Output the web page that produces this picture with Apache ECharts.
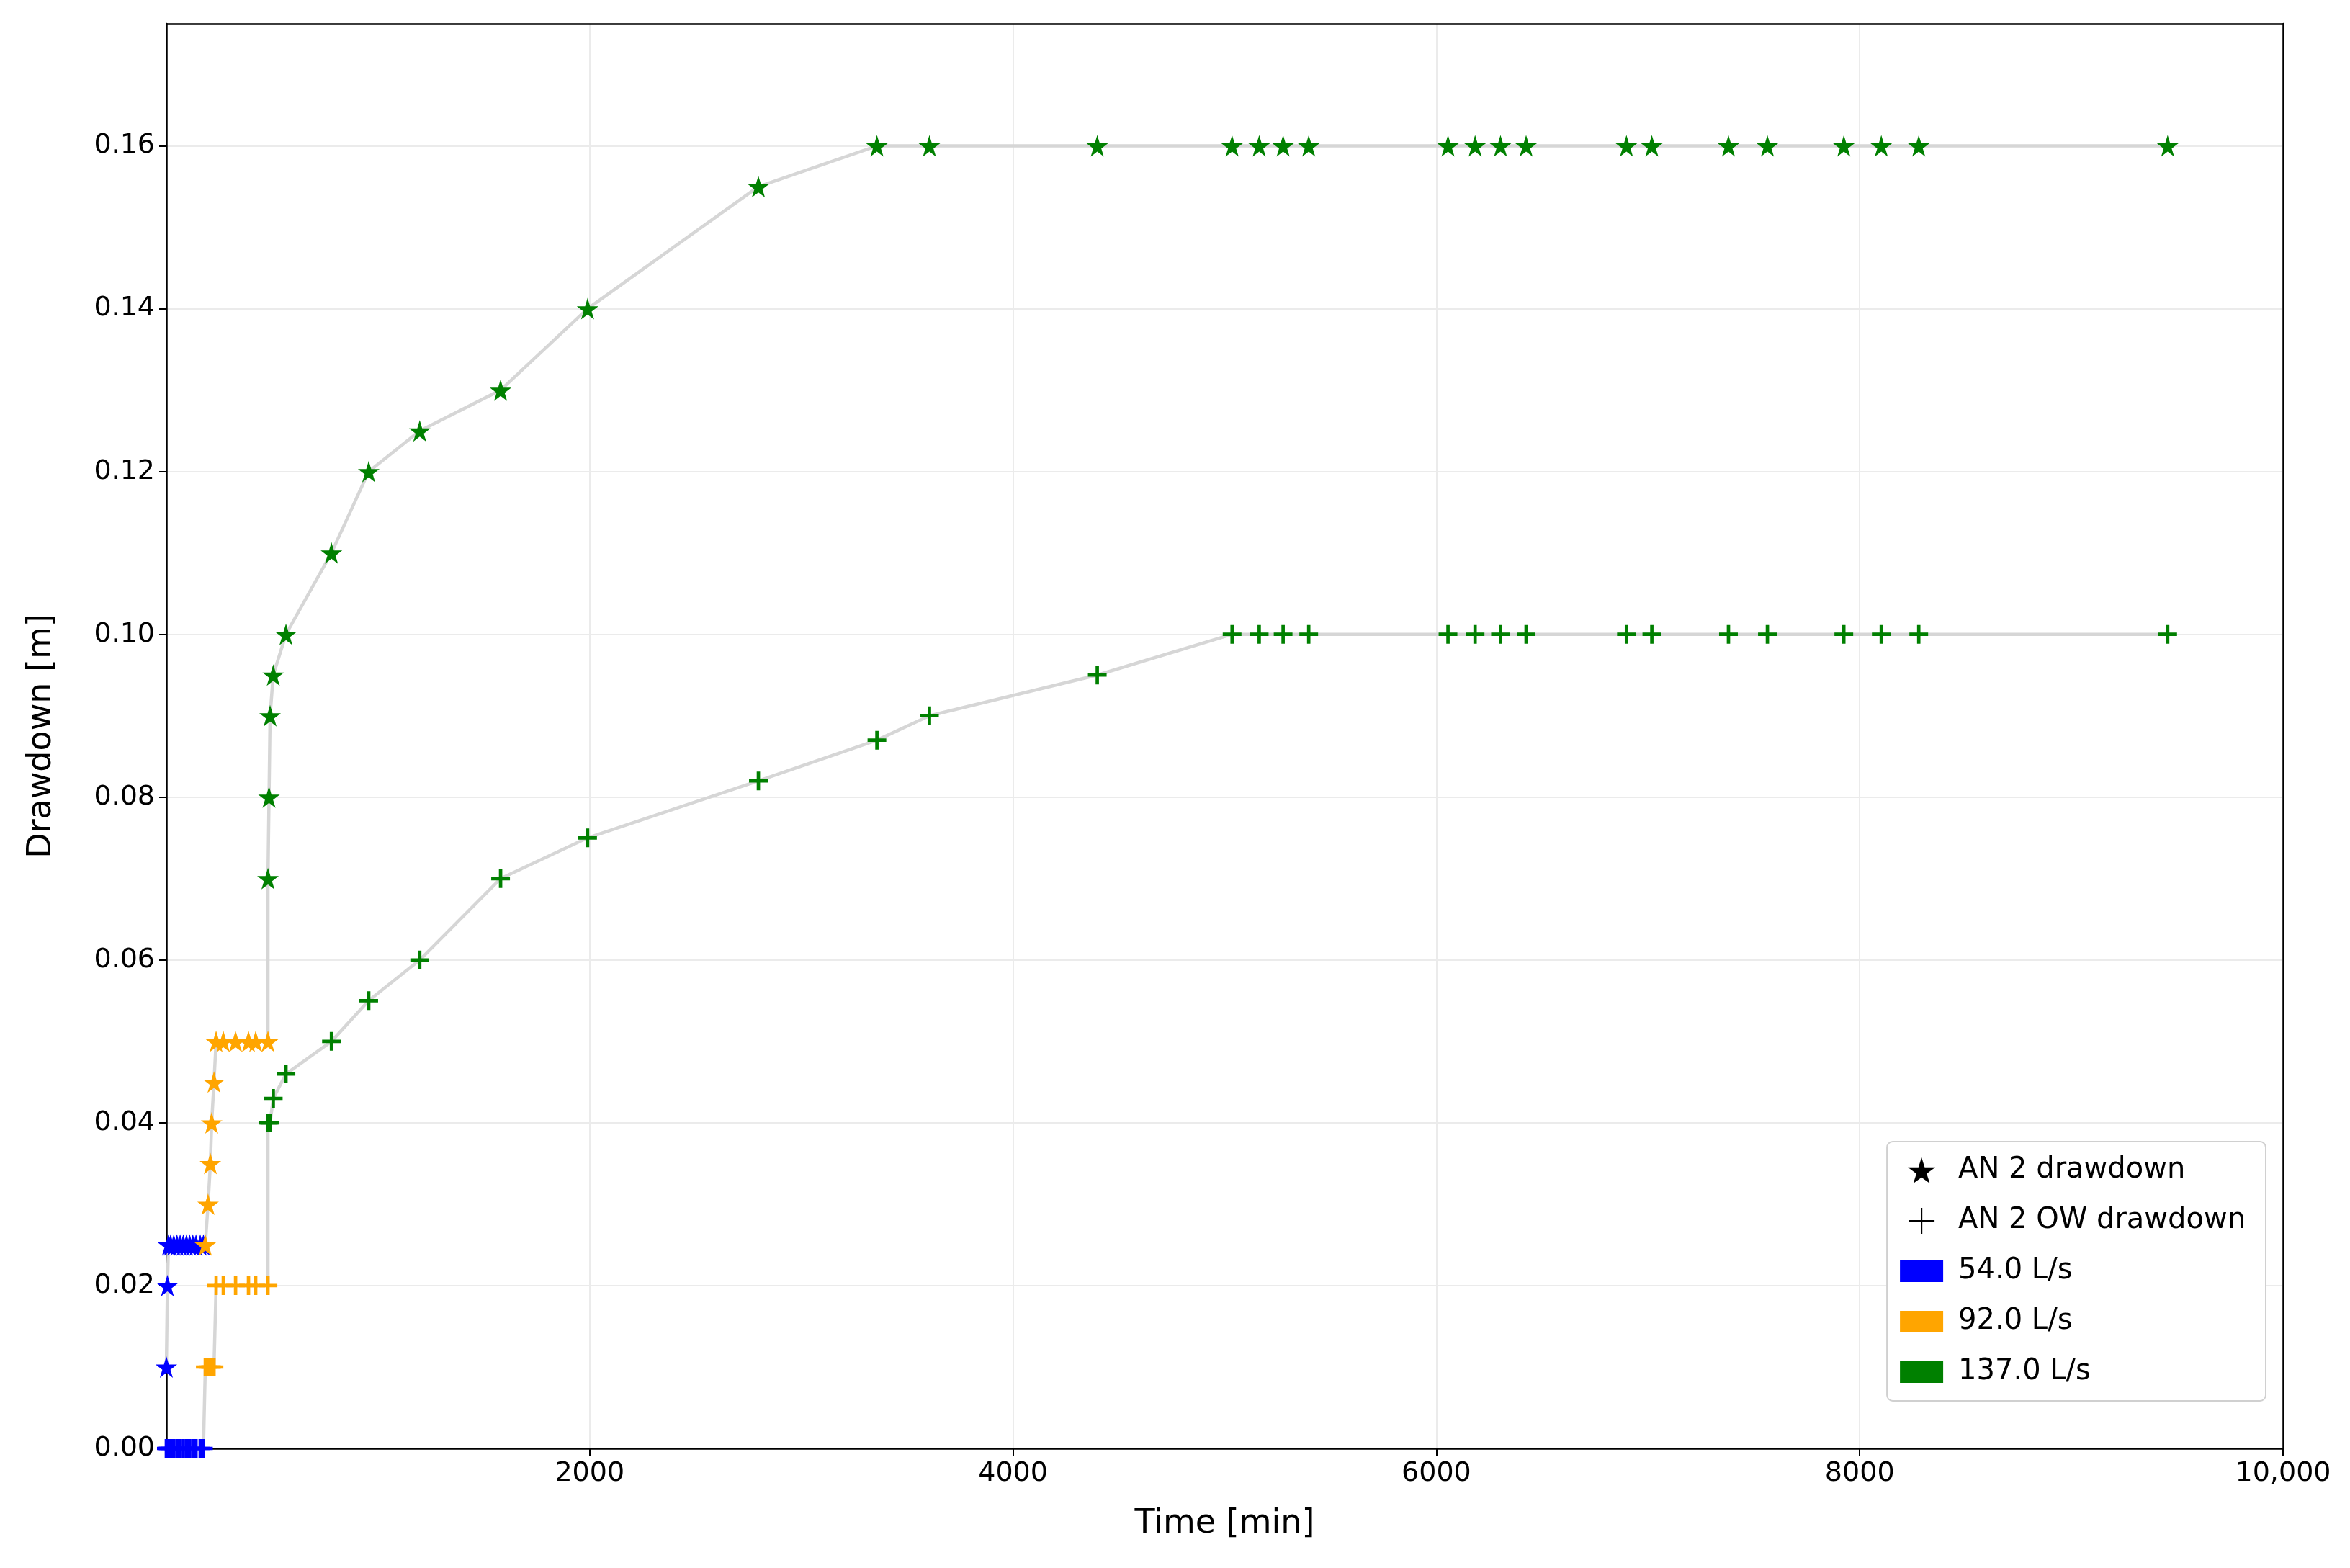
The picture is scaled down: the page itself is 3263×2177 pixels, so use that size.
<!DOCTYPE html>
<html><head><meta charset="utf-8">
<script src="https://cdn.jsdelivr.net/npm/echarts@6/dist/echarts.min.js"></script>
<style>html,body{margin:0;background:#fff}#c{width:3263px;height:2177px}</style>
</head><body><div id="c"></div>
<script>
// time [min] and drawdown [m], per pumping rate
var blueTime = [0, 5, 10, 20, 35, 50, 65, 80, 95, 110, 125, 140, 160, 175];
var blueStar = [0.01, 0.02, 0.025, 0.025, 0.025, 0.025, 0.025, 0.025, 0.025, 0.025, 0.025, 0.025, 0.025, 0.025];
var bluePlus = [0, 0, 0, 0, 0, 0, 0, 0, 0, 0, 0, 0, 0, 0];
var orangeTime = [184, 197, 208, 214, 225, 235, 269, 327, 388, 422, 480];
var orangeStar = [0.025, 0.03, 0.035, 0.04, 0.045, 0.05, 0.05, 0.05, 0.05, 0.05, 0.05];
var orangePlus = [0.01, 0.01, 0.01, 0.01, 0.01, 0.02, 0.02, 0.02, 0.02, 0.02, 0.02];
var greenTime = [480, 485, 490, 505, 565, 780, 956, 1197, 1579, 1990, 2797, 3357, 3605, 4398,
  5035, 5163, 5276, 5397, 6055, 6183, 6303, 6424, 6898, 7018, 7380, 7564, 7925, 8102, 8279, 9455];
var greenStar = [0.07, 0.08, 0.09, 0.095, 0.1, 0.11, 0.12, 0.125, 0.13, 0.14, 0.155, 0.16, 0.16, 0.16,
  0.16, 0.16, 0.16, 0.16, 0.16, 0.16, 0.16, 0.16, 0.16, 0.16, 0.16, 0.16, 0.16, 0.16, 0.16, 0.16];
var greenPlus = [0.04, 0.04, 0.04, 0.043, 0.046, 0.05, 0.055, 0.06, 0.07, 0.075, 0.082, 0.087, 0.09, 0.095,
  0.1, 0.1, 0.1, 0.1, 0.1, 0.1, 0.1, 0.1, 0.1, 0.1, 0.1, 0.1, 0.1, 0.1, 0.1, 0.1];
var groups = [
  {name: '54.0 L/s', color: '#0000ff', t: blueTime, s: blueStar, p: bluePlus},
  {name: '92.0 L/s', color: '#ffa500', t: orangeTime, s: orangeStar, p: orangePlus},
  {name: '137.0 L/s', color: '#008000', t: greenTime, s: greenStar, p: greenPlus}
];

var STAR = 'path://M50,0 L61,35 L98,35 L68,57 L79,91 L50,70 L21,91 L32,57 L2,35 L39,35 Z';
var PLUS = 'path://M41,0 H59 V41 H100 V59 H59 V100 H41 V59 H0 V41 H41 Z';
var RECT = 'path://M0,0 H100 V50 H0 Z';

function zip(t, v) { return t.map(function (x, i) { return [x, v[i]]; }); }

var series = [];
var allStar = [], allPlus = [];
groups.forEach(function (g) {
  allStar = allStar.concat(zip(g.t, g.s));
  allPlus = allPlus.concat(zip(g.t, g.p));
});
[allStar, allPlus].forEach(function (d) {
  series.push({type: 'line', data: d, showSymbol: false, silent: true,
    lineStyle: {color: '#d6d6d6', width: 4.5}, z: 1});
});
groups.forEach(function (g) {
  series.push({type: 'scatter', data: zip(g.t, g.s), symbol: STAR, symbolSize: 30,
    itemStyle: {color: g.color, opacity: 1}, z: 3});
  series.push({type: 'scatter', data: zip(g.t, g.p), symbol: PLUS, symbolSize: 26,
    itemStyle: {color: g.color, opacity: 1}, z: 3});
});
// legend-only entries
series.push({type: 'scatter', name: 'AN 2 drawdown', data: [], symbol: STAR, itemStyle: {color: '#000', opacity: 1}});
series.push({type: 'scatter', name: 'AN 2 OW drawdown', data: [], symbol: 'path://M47,0 H53 V47 H100 V53 H53 V100 H47 V53 H0 V47 H47 Z', itemStyle: {color: '#000', opacity: 1}});
groups.forEach(function (g) {
  series.push({type: 'scatter', name: g.name, data: [], symbol: RECT, itemStyle: {color: g.color, opacity: 1}});
});

var tick = {show: true, length: 10, lineStyle: {color: '#000', width: 2}};
var frame = {show: true, onZero: false, lineStyle: {color: '#000', width: 2.5}};
var chart = echarts.init(document.getElementById('c'));
chart.setOption({
  animation: false,
  textStyle: {fontFamily: 'DejaVu Sans'},
  grid: {left: 231, right: 93, top: 33, bottom: 166},
  xAxis: [{type: 'value', min: 0, max: 10000, interval: 2000,
    name: 'Time [min]', nameLocation: 'middle', nameGap: 82,
    nameTextStyle: {fontSize: 46, color: '#000'},
    axisLine: frame, axisTick: tick,
    axisLabel: {fontSize: 38, color: '#000', margin: 16,
      formatter: function (v) { return v === 0 ? '' : (v === 10000 ? '10,000' : String(v)); }},
    splitLine: {lineStyle: {color: '#ebebeb', width: 2}}},
    {type: 'value', position: 'top', min: 0, max: 10000, axisLine: frame,
     axisTick: {show: false}, axisLabel: {show: false}, splitLine: {show: false}}],
  yAxis: [{type: 'value', min: 0, max: 0.175, interval: 0.02,
    name: 'Drawdown [m]', nameLocation: 'middle', nameGap: 150, nameRotate: 90,
    nameTextStyle: {fontSize: 46, color: '#000'},
    axisLine: frame, axisTick: tick,
    axisLabel: {fontSize: 38, color: '#000', margin: 16, showMaxLabel: false,
      formatter: function (v) { return v > 0.17 ? '' : v.toFixed(2); }},
    splitLine: {lineStyle: {color: '#ebebeb', width: 2}}},
    {type: 'value', position: 'right', min: 0, max: 0.175, axisLine: frame,
     axisTick: {show: false}, axisLabel: {show: false}, splitLine: {show: false}}],
  legend: {orient: 'vertical', right: 117, bottom: 232, itemWidth: 60, itemHeight: 36, itemGap: 30,
    padding: [20, 28, 20, 18], backgroundColor: '#fff', borderColor: '#d0d0d0', borderWidth: 2, borderRadius: 8,
    textStyle: {fontSize: 40, color: '#000', padding: [0, 0, 0, 16]},
    data: ['AN 2 drawdown', 'AN 2 OW drawdown', '54.0 L/s', '92.0 L/s', '137.0 L/s']},
  series: series
});
</script></body></html>
